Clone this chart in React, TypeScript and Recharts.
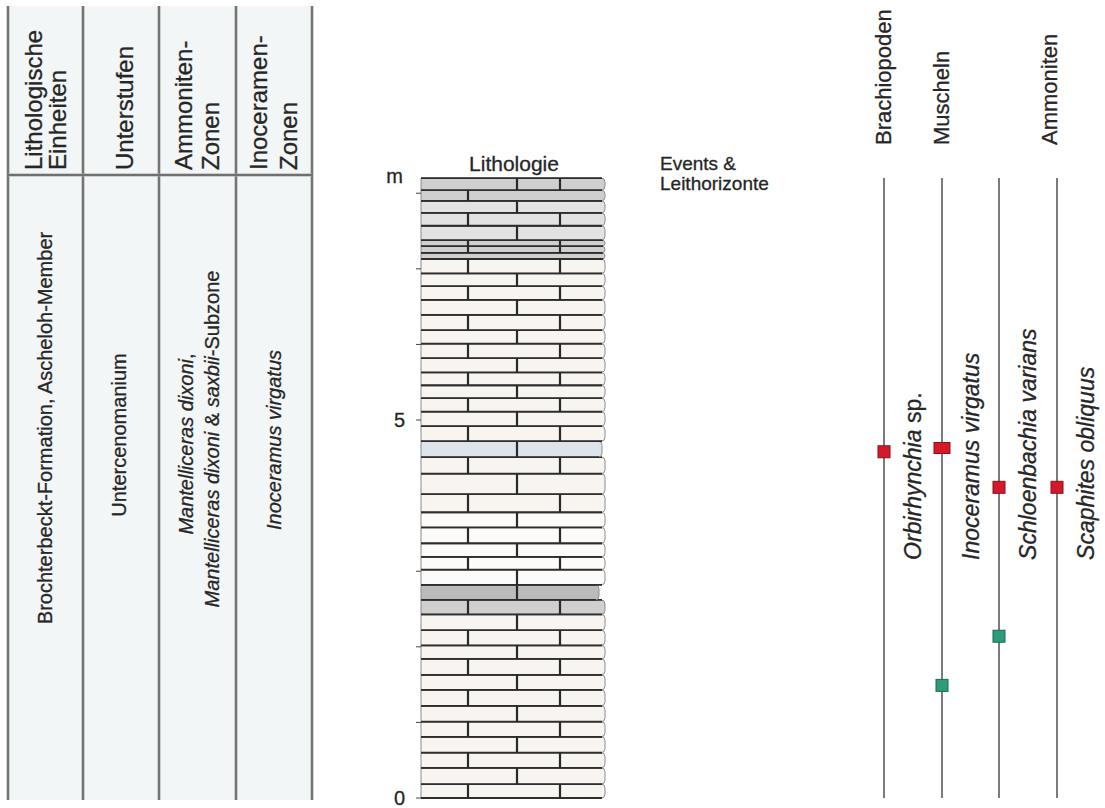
import React from 'react'
import {
  ComposedChart,
  XAxis,
  YAxis,
  ReferenceArea,
  ReferenceLine,
  ReferenceDot,
  Scatter,
} from 'recharts'

// =============================================================================
// Data (depths in metres above the base of the section)
// =============================================================================

// top of every bed, from the base upward (base of the first bed = 0 m)
const BED_TOPS = [
  0.185, 0.4, 0.6, 0.81, 1.01, 1.22, 1.43, 1.63, 1.84, 2.02, 2.22, 2.43,
  2.62, 2.82, 3.02, 3.19, 3.37, 3.58, 3.78, 4.02, 4.29, 4.51, 4.72, 4.92,
  5.11, 5.29, 5.46, 5.63, 5.82, 6.01, 6.19, 6.39, 6.59, 6.77, 6.94, 7.13,
  7.21, 7.3, 7.38, 7.57, 7.74, 7.9, 8.04, 8.2,
]

const BED_LITHO = [
  'kalk', 'kalk', 'kalk', 'kalk', 'kalk', 'kalk', 'kalk', 'kalk', 'kalk', 'kalk', 'kalk', 'kalk',
  'mergelkalk', 'mergel',
  'kalkHell', 'kalkHell', 'kalkHell', 'kalkHell', 'kalkHell',
  'kalk', 'kalk', 'kalk',
  'kalkBlau',
  'kalk', 'kalk', 'kalk', 'kalk', 'kalk', 'kalk', 'kalk', 'kalk', 'kalk', 'kalk', 'kalk', 'kalk', 'kalk',
  'mergelkalk', 'mergelkalk', 'mergelkalk',
  'kalkGrau', 'kalkGrau', 'kalkGrau',
  'mergelkalk', 'mergelkalk',
]

// brick joint pattern of each bed
const BED_JOINTS = [
  'A', 'B', 'A', 'B', 'A', 'B', 'A', 'B', 'A', 'B', 'A', 'B',
  'A', 'B', 'B', 'A', 'B', 'A', 'B', 'A', 'B', 'A', 'B', 'A',
  'B', 'A', 'B', 'A', 'B', 'A', 'B', 'A', 'B', 'A', 'B', 'A',
  '-', 'A', 'A', 'B', 'A', 'B', 'L', 'R',
]

const DEPTH_TICKS = [0, 1, 2, 3, 5, 6, 7, 8]
const LABELLED_TICKS = [0, 5]
const UNIT_LABEL_AT = 8.2

const TAXA = ['Orbirhynchia sp.', 'Inoceramus virgatus', 'Schloenbachia varians', 'Scaphites obliquus']
const RANGE_BASE = 0
const RANGE_TOP = 8.2
const TAXON_LABEL_BASE = 3.15

const OCC_TAXON = [0, 1, 2, 3, 2, 1]
const OCC_DEPTH = [4.58, 4.63, 4.11, 4.11, 2.14, 1.49]
const OCC_KIND = ['leit', 'leitBreit', 'leit', 'leit', 'fund', 'fund']

// =============================================================================
// Layout & styles
// =============================================================================

const W = 1105
const H = 808
const Y_DOMAIN: [number, number] = [-0.132, 10.556]
const X_DOMAIN: [number, number] = [0, 684] // 0 = left edge of the lithology column
const COL_RIGHT = 184
const JOINT_X: Record<string, number[]> = { A: [47, 139], B: [96], L: [47], R: [96, 139], '-': [] }
const TAXON_X = [463, 521, 578, 636]
const TAXON_LABEL_DX = 29

const FONT = '"Liberation Sans", Arial, Helvetica, sans-serif'
const INK = '#262626'
const TEXT_STYLE = { fontFamily: FONT, fill: INK, stroke: INK, strokeWidth: 0.3 }

const LITHO_STYLE: Record<string, { fill: string; recess: number }> = {
  kalk: { fill: '#f8f4ef', recess: 0 },
  kalkHell: { fill: '#fcfbf9', recess: 0 },
  kalkBlau: { fill: '#dde4ea', recess: 3 },
  kalkGrau: { fill: '#e2e2e2', recess: 0 },
  mergelkalk: { fill: '#cfcfcf', recess: 0 },
  mergel: { fill: '#bbbbbb', recess: 6 },
}

const MARKER_STYLE: Record<string, { fill: string; stroke: string; w: number; h: number }> = {
  leit: { fill: '#d3192b', stroke: '#8e1019', w: 12, h: 12 },
  leitBreit: { fill: '#d3192b', stroke: '#8e1019', w: 16, h: 11 },
  fund: { fill: '#2f9b7b', stroke: '#1c6a52', w: 12, h: 12 },
}

const beds = BED_TOPS.map((top, i) => ({
  bottom: i === 0 ? 0 : BED_TOPS[i - 1],
  top,
  litho: BED_LITHO[i],
  joints: BED_JOINTS[i],
}))

const occurrences = OCC_DEPTH.map((y, i) => ({
  x: TAXON_X[OCC_TAXON[i]],
  y,
  kind: OCC_KIND[i],
}))

// =============================================================================
// Renderers
// =============================================================================

const bedShape = (litho: string) => (p: any) => {
  const { x, y, width, height } = p
  const st = LITHO_STYLE[litho]
  const r = Math.min(4, height / 2)
  const right = x + width - st.recess
  const d = `M${x},${y} H${right - r} Q${right},${y} ${right},${y + r} V${y + height - r} Q${right},${y + height} ${right - r},${y + height} H${x} Z`
  return (
    <g>
      <path d={d} fill={st.fill} stroke="#8c8c8c" strokeWidth={1} />
      <line x1={x} x2={right - r + 1} y1={y} y2={y} stroke="#2e2e2e" strokeWidth={1.8} />
      <line x1={x} x2={right - r + 1} y1={y + height} y2={y + height} stroke="#2e2e2e" strokeWidth={1.8} />
    </g>
  )
}

function DepthTick(props: any) {
  const { x, y, payload } = props
  const v = payload.value
  if (v === UNIT_LABEL_AT) {
    return (
      <text x={x - 18} y={y} dy={5} textAnchor="end" fontSize={20} {...TEXT_STYLE}>
        m
      </text>
    )
  }
  return (
    <g>
      <line x1={x - 5} x2={x} y1={y} y2={y} stroke="#444" strokeWidth={1} />
      {LABELLED_TICKS.includes(v) && (
        <text x={x - 16} y={y} dy={7} textAnchor="end" fontSize={20} {...TEXT_STYLE}>
          {v}
        </text>
      )}
    </g>
  )
}

function Marker(props: any) {
  const { cx, cy, payload } = props
  const st = MARKER_STYLE[payload.kind]
  return (
    <rect
      x={cx - st.w / 2}
      y={cy - st.h / 2}
      width={st.w}
      height={st.h}
      fill={st.fill}
      stroke={st.stroke}
      strokeWidth={1}
    />
  )
}

const taxonLabel = (name: string) => (p: any) => {
  const { cx, cy } = p
  const sp = name.endsWith(' sp.')
  return (
    <text
      x={cx}
      y={cy}
      transform={`rotate(-90 ${cx} ${cy})`}
      fontSize={23}
      dominantBaseline="central"
      {...TEXT_STYLE}
    >
      <tspan fontStyle="italic">{sp ? name.slice(0, -4) : name}</tspan>
      {sp && <tspan> sp.</tspan>}
    </text>
  )
}

function VText({
  x,
  y,
  size,
  anchor = 'start',
  children,
}: {
  x: number
  y: number
  size: number
  anchor?: string
  children: React.ReactNode
}) {
  return (
    <text
      x={x}
      y={y}
      transform={`rotate(-90 ${x} ${y})`}
      fontSize={size}
      textAnchor={anchor}
      dominantBaseline="central"
      {...TEXT_STYLE}
    >
      {children}
    </text>
  )
}

// =============================================================================
// Table + headers (static frame)
// =============================================================================

const TABLE_LINES = [8, 83, 159, 236, 312]

function Frame() {
  return (
    <svg width={W} height={H} style={{ position: 'absolute', left: 0, top: 0, pointerEvents: 'none' }}>
      <rect x={8} y={6} width={304} height={794} fill="#f3f6f6" />
      {TABLE_LINES.map((x) => (
        <g key={x}>
          <line x1={x} x2={x} y1={6} y2={800} stroke="#a8a8a8" strokeWidth={3} />
          <line x1={x} x2={x} y1={6} y2={800} stroke="#5e5e5e" strokeWidth={1.4} />
        </g>
      ))}
      <line x1={8} x2={312} y1={175} y2={175} stroke="#a8a8a8" strokeWidth={3} />
      <line x1={8} x2={312} y1={175} y2={175} stroke="#5e5e5e" strokeWidth={1.4} />

      <VText x={33} y={170} size={24}>Lithologische</VText>
      <VText x={57} y={170} size={24}>Einheiten</VText>
      <VText x={124} y={170} size={24}>Unterstufen</VText>
      <VText x={183} y={170} size={24}>Ammoniten-</VText>
      <VText x={210} y={170} size={24}>Zonen</VText>
      <VText x={258} y={170} size={24}>Inoceramen-</VText>
      <VText x={288} y={170} size={24}>Zonen</VText>

      <VText x={45} y={428} size={20} anchor="middle">Brochterbeckt-Formation, Ascheloh-Member</VText>
      <VText x={119} y={435} size={20} anchor="middle">Untercenomanium</VText>
      <VText x={186} y={444} size={20} anchor="middle">
        <tspan fontStyle="italic">Mantelliceras dixoni</tspan>,
      </VText>
      <VText x={212} y={439} size={20} anchor="middle">
        <tspan fontStyle="italic">Mantelliceras dixoni</tspan> &amp; <tspan fontStyle="italic">saxbii</tspan>-Subzone
      </VText>
      <VText x={274} y={440} size={20} anchor="middle">
        <tspan fontStyle="italic">Inoceramus virgatus</tspan>
      </VText>

      <text x={514} y={171} textAnchor="middle" fontSize={21} {...TEXT_STYLE}>Lithologie</text>
      <text x={660} y={170} fontSize={19} {...TEXT_STYLE}>Events &amp;</text>
      <text x={660} y={190} fontSize={19} {...TEXT_STYLE}>Leithorizonte</text>

      <VText x={883} y={145} size={22}>Brachiopoden</VText>
      <VText x={941} y={145} size={22}>Muscheln</VText>
      <VText x={1049} y={145} size={22}>Ammoniten</VText>
    </svg>
  )
}

// =============================================================================
// Main
// =============================================================================

export default function App() {
  return (
    <div style={{ position: 'absolute', left: 0, top: 0, width: W, height: H, background: '#fff' }}>
      <ComposedChart width={W} height={H} margin={{ top: 0, right: 0, bottom: 0, left: 381 }}>
        <XAxis type="number" dataKey="x" domain={X_DOMAIN} allowDataOverflow hide />
        <YAxis
          type="number"
          dataKey="y"
          domain={Y_DOMAIN}
          allowDataOverflow
          ticks={[...DEPTH_TICKS, UNIT_LABEL_AT]}
          interval={0}
          tickSize={0}
          tickMargin={0}
          axisLine={false}
          tickLine={false}
          width={40}
          tick={<DepthTick />}
        />

        {beds.map((b, i) => (
          <ReferenceArea
            key={`bed-${i}`}
            x1={0}
            x2={COL_RIGHT}
            y1={b.bottom}
            y2={b.top}
            ifOverflow="visible"
            shape={bedShape(b.litho)}
          />
        ))}
        {beds.flatMap((b, i) =>
          JOINT_X[b.joints].map((jx) => (
            <ReferenceLine
              key={`joint-${i}-${jx}`}
              segment={[{ x: jx, y: b.bottom }, { x: jx, y: b.top }]}
              stroke="#2a2a2a"
              strokeWidth={2.2}
              ifOverflow="visible"
            />
          )),
        )}

        {TAXON_X.map((tx, i) => (
          <ReferenceLine
            key={`range-${i}`}
            segment={[{ x: tx, y: RANGE_BASE }, { x: tx, y: RANGE_TOP }]}
            stroke="#7b7b7b"
            strokeWidth={2}
            ifOverflow="visible"
          />
        ))}
        {TAXA.map((name, i) => (
          <ReferenceDot
            key={`taxon-${i}`}
            x={TAXON_X[i] + TAXON_LABEL_DX}
            y={TAXON_LABEL_BASE}
            ifOverflow="visible"
            shape={taxonLabel(name)}
          />
        ))}

        <Scatter data={occurrences} isAnimationActive={false} shape={<Marker />} />
      </ComposedChart>
      <Frame />
    </div>
  )
}
